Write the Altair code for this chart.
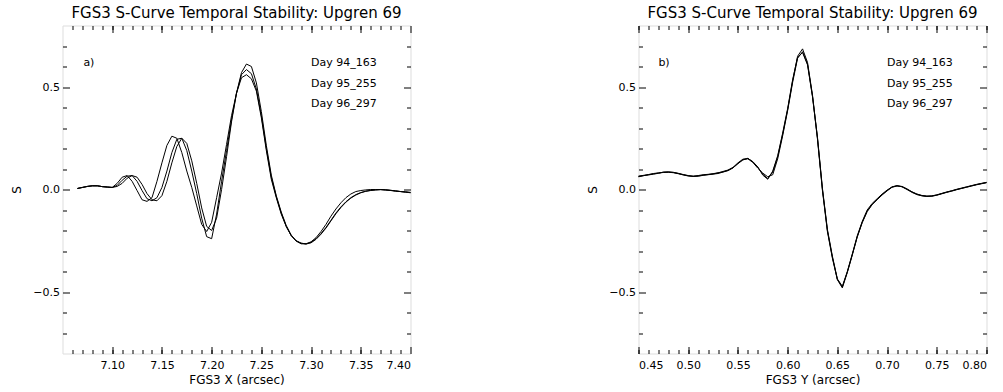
import altair as alt
import pandas as pd

FONT = "DejaVu Sans"
TITLE = "FGS3 S-Curve Temporal Stability: Upgren 69"
SERIES = ["Day 94_163", "Day 95_255", "Day 96_297"]

# ---- panel a) : FGS3 X ----
LEFT_X = [round(7.065 + 0.005 * i, 3) for i in range(68)]
LEFT_START = [0.005, 0.010, 0.015, 0.018, 0.018, 0.014, 0.012, 0.010]
LEFT_A = LEFT_START + [
    0.030, 0.060, 0.068, 0.040, -0.005, -0.050, -0.058, -0.040, 0.040, 0.130,
    0.215, 0.260, 0.250, 0.180, 0.090, 0.010, -0.080, -0.170, -0.205, -0.160,
    -0.040, 0.080, 0.220, 0.360, 0.470, 0.545, 0.560, 0.540, 0.480, 0.350,
    0.190, 0.050, -0.040, -0.120, -0.180, -0.225, -0.250, -0.262, -0.265, -0.255,
    -0.235, -0.205, -0.170, -0.130, -0.095, -0.065, -0.040, -0.022, -0.010, -0.005,
    -0.002, 0.000, 0.000, 0.000, -0.002, -0.005, -0.008, -0.010, -0.012, -0.015]
LEFT_B = LEFT_START + [
    0.020, 0.045, 0.065, 0.068, 0.040, -0.005, -0.045, -0.055, -0.040, 0.010,
    0.090, 0.180, 0.245, 0.250, 0.190, 0.090, -0.020, -0.140, -0.230, -0.240,
    -0.120, 0.040, 0.190, 0.340, 0.470, 0.560, 0.585, 0.565, 0.490, 0.360,
    0.200, 0.060, -0.035, -0.115, -0.180, -0.225, -0.252, -0.265, -0.265, -0.258,
    -0.240, -0.215, -0.185, -0.150, -0.115, -0.085, -0.060, -0.040, -0.025, -0.015,
    -0.008, -0.004, -0.002, 0.000, -0.002, -0.004, -0.007, -0.010, -0.012, -0.014]
LEFT_C = LEFT_START + [
    0.015, 0.030, 0.055, 0.068, 0.060, 0.025, -0.020, -0.050, -0.055, -0.030,
    0.040, 0.130, 0.210, 0.250, 0.225, 0.140, 0.030, -0.090, -0.180, -0.200,
    -0.140, 0.000, 0.160, 0.330, 0.470, 0.570, 0.612, 0.600, 0.520, 0.380,
    0.215, 0.070, -0.030, -0.110, -0.175, -0.222, -0.250, -0.262, -0.266, -0.260,
    -0.243, -0.218, -0.188, -0.153, -0.118, -0.088, -0.062, -0.042, -0.027, -0.016,
    -0.009, -0.005, -0.002, -0.001, -0.002, -0.004, -0.007, -0.010, -0.013, -0.016]

# ---- panel b) : FGS3 Y ----
RIGHT_X = [round(0.450 + 0.005 * i, 3) for i in range(71)]
RIGHT_A = [
    0.064, 0.068, 0.072, 0.076, 0.080, 0.084, 0.085, 0.083, 0.078, 0.072,
    0.067, 0.064, 0.066, 0.070, 0.072, 0.075, 0.078, 0.085, 0.092, 0.105,
    0.127, 0.146, 0.152, 0.135, 0.108, 0.075, 0.053, 0.085, 0.160, 0.270,
    0.390, 0.530, 0.650, 0.686, 0.620, 0.460, 0.250, 0.000, -0.200, -0.330,
    -0.440, -0.480, -0.405, -0.320, -0.230, -0.160, -0.105, -0.072, -0.048, -0.025,
    -0.005, 0.012, 0.018, 0.014, 0.002, -0.012, -0.023, -0.030, -0.033, -0.032,
    -0.027, -0.020, -0.013, -0.007, 0.000, 0.006, 0.012, 0.018, 0.024, 0.029,
    0.034]
RIGHT_B = [
    0.062, 0.067, 0.073, 0.078, 0.081, 0.083, 0.084, 0.082, 0.077, 0.071,
    0.066, 0.065, 0.068, 0.072, 0.074, 0.076, 0.080, 0.088, 0.095, 0.108,
    0.130, 0.148, 0.150, 0.132, 0.104, 0.080, 0.062, 0.072, 0.150, 0.262,
    0.385, 0.522, 0.640, 0.672, 0.612, 0.455, 0.245, -0.005, -0.205, -0.335,
    -0.438, -0.476, -0.400, -0.315, -0.226, -0.156, -0.100, -0.068, -0.045, -0.022,
    -0.003, 0.013, 0.019, 0.013, 0.000, -0.014, -0.025, -0.031, -0.034, -0.031,
    -0.026, -0.019, -0.012, -0.006, 0.001, 0.007, 0.013, 0.019, 0.025, 0.030,
    0.035]
RIGHT_C = [
    0.065, 0.069, 0.071, 0.075, 0.079, 0.085, 0.086, 0.084, 0.079, 0.073,
    0.068, 0.064, 0.065, 0.069, 0.073, 0.077, 0.082, 0.086, 0.093, 0.106,
    0.126, 0.144, 0.151, 0.136, 0.110, 0.070, 0.050, 0.090, 0.165, 0.275,
    0.395, 0.535, 0.645, 0.668, 0.608, 0.452, 0.255, 0.005, -0.195, -0.325,
    -0.436, -0.472, -0.403, -0.318, -0.232, -0.162, -0.108, -0.074, -0.050, -0.027,
    -0.007, 0.011, 0.017, 0.015, 0.003, -0.011, -0.022, -0.029, -0.032, -0.033,
    -0.028, -0.021, -0.014, -0.008, -0.001, 0.005, 0.011, 0.017, 0.023, 0.028,
    0.033]

LEFT_MAJOR = [7.10, 7.15, 7.20, 7.25, 7.30, 7.35, 7.40]
LEFT_MINOR = [round(7.06 + 0.01 * i, 2) for i in range(34)]
RIGHT_MAJOR = [0.45, 0.50, 0.55, 0.60, 0.65, 0.70, 0.75, 0.80]
RIGHT_MINOR = [round(0.45 + 0.01 * i, 2) for i in range(36)]
Y_MAJOR = [-0.5, 0.0, 0.5]
Y_MINOR = [-0.7, -0.6, -0.4, -0.3, -0.2, -0.1, 0.1, 0.2, 0.3, 0.4, 0.6, 0.7]

W, H = 348, 328
MAJ, MIN = 7, 4


def tick_axis(orient, values, size, **kw):
    opts = dict(orient=orient, values=values, tickSize=size, offset=-size,
                domain=False, grid=False, ticks=True, tickColor="black",
                tickWidth=1, labels=False, title=None)
    opts.update(kw)
    return alt.Axis(**opts)


def panel(xs, curves, xdom, xmaj, xmin, xtitle, tag, tag_pos, legend_x):
    rows = []
    for name, ys in zip(SERIES, curves):
        for x, y in zip(xs, ys):
            rows.append({"x": x, "y": y, "series": name})
    df = pd.DataFrame(rows)
    ann = pd.DataFrame({
        "x": [tag_pos[0], legend_x, legend_x, legend_x],
        "y": [tag_pos[1], 0.618, 0.515, 0.417],
        "label": [tag] + SERIES,
    })
    sx = alt.Scale(domain=xdom, nice=False, zero=False)
    sy = alt.Scale(domain=[-0.8, 0.8], nice=False, zero=False)
    base = alt.Chart(df)

    lines = base.mark_line(color="black", strokeWidth=1).encode(
        x=alt.X("x:Q", scale=sx, axis=tick_axis(
            "bottom", xmaj, MAJ, labels=True, format=".2f", labelPadding=6,
            labelFontSize=11, labelFont=FONT, labelColor="black",
            title=xtitle, titleY=37, titleBaseline="alphabetic",
            titleFontSize=12, titleFont=FONT, titleFontWeight="normal",
            titleColor="black")),
        y=alt.Y("y:Q", scale=sy, axis=tick_axis(
            "left", Y_MAJOR, MAJ, labels=True, format=".1f", labelPadding=3,
            labelFontSize=11, labelFont=FONT, labelColor="black",
            title="S", titleX=-53.5, titleY=H / 2,
            titleAngle=-90, titleBaseline="middle", titleAlign="center",
            titleFontSize=12, titleFont=FONT, titleFontWeight="normal",
            titleColor="black")),
        detail="series:N",
    )
    minor_bl = base.mark_line(opacity=0).encode(
        x=alt.X("x:Q", scale=sx, axis=tick_axis("bottom", xmin, MIN)),
        y=alt.Y("y:Q", scale=sy, axis=tick_axis("left", Y_MINOR, MIN)),
        detail="series:N",
    )
    major_tr = base.mark_line(opacity=0).encode(
        x=alt.X("x:Q", scale=sx, axis=tick_axis("top", xmaj, MAJ)),
        y=alt.Y("y:Q", scale=sy, axis=tick_axis("right", Y_MAJOR, MAJ)),
        detail="series:N",
    )
    minor_tr = base.mark_line(opacity=0).encode(
        x=alt.X("x:Q", scale=sx, axis=tick_axis("top", xmin, MIN)),
        y=alt.Y("y:Q", scale=sy, axis=tick_axis("right", Y_MINOR, MIN)),
        detail="series:N",
    )
    text = alt.Chart(ann).mark_text(
        align="left", baseline="middle", font=FONT, fontSize=11, color="black"
    ).encode(
        x=alt.X("x:Q", scale=sx, axis=None),
        y=alt.Y("y:Q", scale=sy, axis=None),
        text="label:N",
    )
    return alt.layer(lines, minor_bl, major_tr, minor_tr, text).resolve_axis(
        x="independent", y="independent"
    ).properties(
        width=W, height=H,
        title=alt.TitleParams(TITLE, font=FONT, fontSize=15, fontWeight="normal",
                              anchor="middle", offset=4, color="black"),
    )


left = panel(LEFT_X, [LEFT_A, LEFT_B, LEFT_C], [7.05, 7.40], LEFT_MAJOR,
             LEFT_MINOR, "FGS3 X (arcsec)", "a)", (7.071, 0.618), 7.300)
right = panel(RIGHT_X, [RIGHT_A, RIGHT_B, RIGHT_C], [0.45, 0.80], RIGHT_MAJOR,
              RIGHT_MINOR, "FGS3 Y (arcsec)", "b)", (0.470, 0.618), 0.700)

chart = alt.hconcat(left, right, spacing=228, bounds="flush").properties(
    padding={"left": 9.5, "top": 5.5, "right": 5, "bottom": 5}
).configure_view(stroke="black", strokeWidth=1).configure_axis(
    labelFont=FONT, titleFont=FONT, labelColor="black", titleColor="black",
    titleFontWeight="normal"
).configure(background="white")

chart.save("out.html", embed_options={"renderer": "svg", "actions": False})
